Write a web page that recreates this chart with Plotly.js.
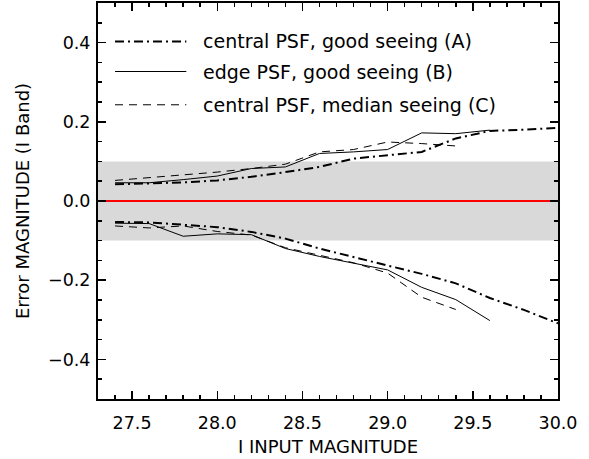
<!DOCTYPE html>
<html>
<head>
<meta charset="utf-8">
<script src="https://cdn.plot.ly/plotly-3.0.1.min.js"></script>
<style>html,body{margin:0;padding:0;background:#fff;}#chart{width:589px;height:459px;}</style>
</head>
<body>
<div id="chart"></div>
<script>
// Input magnitudes (I band)
var magA = [27.4, 27.6, 27.8, 28.0, 28.2, 28.4, 28.6, 28.8, 29.0, 29.2, 29.4, 29.6, 29.8, 30.0];
var magB = [27.4, 27.6, 27.8, 28.0, 28.2, 28.4, 28.6, 28.8, 29.0, 29.2, 29.4, 29.6];
var magC = [27.4, 27.6, 27.8, 28.0, 28.2, 28.4, 28.6, 28.8, 29.0, 29.2, 29.4];

// (A) central PSF, good seeing
var upperA = [0.042, 0.044, 0.047, 0.052, 0.061, 0.073, 0.086, 0.107, 0.116, 0.124, 0.158, 0.177, 0.180, 0.185];
var lowerA = [-0.053, -0.054, -0.060, -0.066, -0.078, -0.095, -0.120, -0.142, -0.163, -0.184, -0.208, -0.245, -0.275, -0.309];
// (B) edge PSF, good seeing
var upperB = [0.046, 0.046, 0.054, 0.063, 0.082, 0.086, 0.120, 0.124, 0.130, 0.172, 0.170, 0.179];
var lowerB = [-0.056, -0.057, -0.089, -0.083, -0.085, -0.120, -0.140, -0.157, -0.174, -0.218, -0.249, -0.302];
// (C) central PSF, median seeing
var upperC = [0.052, 0.059, 0.065, 0.073, 0.082, 0.093, 0.124, 0.130, 0.149, 0.145, 0.139];
var lowerC = [-0.063, -0.068, -0.063, -0.077, -0.086, -0.118, -0.137, -0.156, -0.182, -0.243, -0.274];

var legendLabels = ['central PSF, good seeing (A)', 'edge PSF, good seeing (B)', 'central PSF, median seeing (C)'];
var xTickVals = [27.5, 28.0, 28.5, 29.0, 29.5, 30.0];
var xTickText = ['27.5', '28.0', '28.5', '29.0', '29.5', '30.0'];
var yTickVals = [-0.4, -0.2, 0, 0.2, 0.4];
var yTickText = ['\u22120.4', '\u22120.2', '0.0', '0.2', '0.4'];
var bandLimit = 0.1;

var FONT = 'DejaVu Sans, Liberation Sans, sans-serif';
var DASHDOT = '9px,4px,2px,4px';
var DASHED = '8px,6px';

function tr(x, y, width, dash) {
  return {x: x, y: y, type: 'scatter', mode: 'lines', showlegend: false, hoverinfo: 'skip',
          line: {color: '#000', width: width, dash: dash}};
}

var data = [
  tr(magA, upperA, 2, DASHDOT), tr(magA, lowerA, 2, DASHDOT),
  tr(magB, upperB, 1, 'solid'), tr(magB, lowerB, 1, 'solid'),
  tr(magC, upperC, 1, DASHED), tr(magC, lowerC, 1, DASHED)
];

var legendStyles = [[2, DASHDOT], [1, 'solid'], [1, DASHED]];
var legendY = [0.903, 0.827, 0.743];
var shapes = [
  {type: 'rect', xref: 'paper', yref: 'y', x0: 0, x1: 1, y0: -bandLimit, y1: bandLimit,
   fillcolor: '#d9d9d9', line: {width: 0}, layer: 'below'},
  {type: 'line', xref: 'paper', yref: 'y', x0: 0, x1: 1, y0: 0, y1: 0,
   line: {color: '#ff0000', width: 2}, layer: 'below'}
];
var annotations = [];
for (var i = 0; i < legendLabels.length; i++) {
  shapes.push({type: 'line', xref: 'paper', yref: 'paper', x0: 0.037, x1: 0.192, y0: legendY[i], y1: legendY[i],
               line: {color: '#000', width: legendStyles[i][0], dash: legendStyles[i][1]}});
  annotations.push({xref: 'paper', yref: 'paper', x: 0.224, y: legendY[i], xanchor: 'left', yanchor: 'middle',
                    text: legendLabels[i], showarrow: false, font: {family: FONT, size: 19, color: '#000'}});
}

var layout = {
  width: 589, height: 459,
  margin: {l: 98, r: 31, t: 3, b: 60, pad: 0},
  paper_bgcolor: '#fff', plot_bgcolor: '#fff',
  font: {family: FONT, size: 17.5, color: '#000'},
  showlegend: false,
  xaxis: {
    range: [27.3, 30.0], tickmode: 'array', tickvals: xTickVals, ticktext: xTickText,
    ticks: 'inside', ticklen: 8, tickwidth: 1.5, tickcolor: '#000', ticklabelstandoff: 7,
    minor: {dtick: 0.1, tick0: 27.3, ticks: 'inside', ticklen: 4, tickwidth: 1.5, tickcolor: '#000'},
    showline: true, linecolor: '#000', linewidth: 2, mirror: 'ticks',
    showgrid: false, zeroline: false,
    title: {text: 'I INPUT MAGNITUDE', font: {family: FONT, size: 18}, standoff: 8}
  },
  yaxis: {
    range: [-0.5, 0.5], tickmode: 'array', tickvals: yTickVals, ticktext: yTickText,
    ticks: 'inside', ticklen: 8, tickwidth: 1.5, tickcolor: '#000', ticklabelstandoff: 2,
    minor: {dtick: 0.05, tick0: -0.5, ticks: 'inside', ticklen: 4, tickwidth: 1.5, tickcolor: '#000'},
    showline: true, linecolor: '#000', linewidth: 2, mirror: 'ticks',
    showgrid: false, zeroline: false,
    title: {text: 'Error MAGNITUDE (I Band)', font: {family: FONT, size: 18}, standoff: 14}
  },
  shapes: shapes,
  annotations: annotations
};

Plotly.newPlot('chart', data, layout, {staticPlot: true, displayModeBar: false});
</script>
</body>
</html>
